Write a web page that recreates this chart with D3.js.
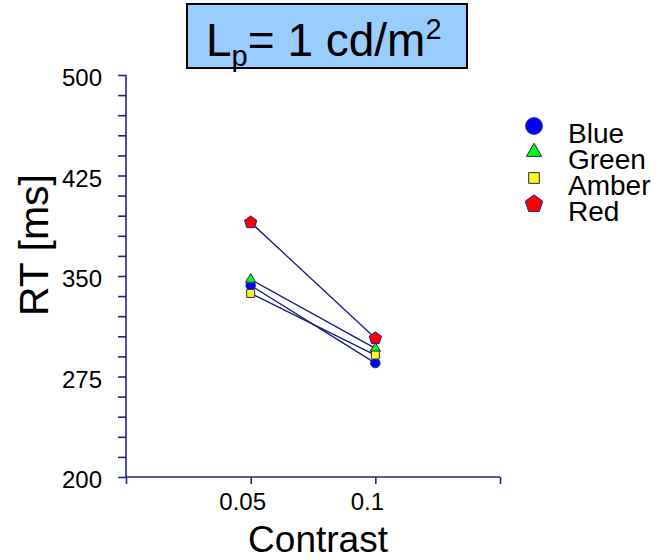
<!DOCTYPE html>
<html>
<head>
<meta charset="utf-8">
<script src="https://cdn.jsdelivr.net/npm/d3@7"></script>
<style>
  body { margin: 0; background: #fff; }
  svg { display: block; font-family: Arial, "Liberation Sans", sans-serif; }
</style>
</head>
<body>
<svg id="chart" width="667" height="560"></svg>
<script>
// RT vs contrast, Lp = 1 cd/m2
const contrasts = [0.05, 0.1];
const seriesNames = ['Blue', 'Green', 'Amber', 'Red'];
const blueRT = [343, 285];
const greenRT = [347.5, 296];
const amberRT = [337, 291];
const redRT = [390, 303.5];
const yMajorTicks = [200, 275, 350, 425, 500];
const xTickLabels = ['0.05', '0.1'];

const svg = d3.select('#chart');
const navy = '#23238c';

const x = d3.scaleLinear().domain([0, 0.15]).range([126, 500]);
const y = d3.scaleLinear().domain([200, 500]).range([477, 75]);

// pentagon symbol for d3.symbol
const symbolPentagon = {
    draw(context, size) {
        const r = Math.sqrt(size / 2.378);
        for (let i = 0; i < 5; i++) {
            const a = -Math.PI / 2 + i * 2 * Math.PI / 5;
            const px = r * Math.cos(a), py = r * Math.sin(a);
            if (i === 0) context.moveTo(px, py); else context.lineTo(px, py);
        }
        context.closePath();
    }
};

const styles = [
    { name: seriesNames[0], values: blueRT,  fill: '#0000ff', type: d3.symbolCircle,   size: 70,  legSize: 220 },
    { name: seriesNames[1], values: greenRT, fill: '#00ff00', type: d3.symbolTriangle, size: 45,  legSize: 100 },
    { name: seriesNames[2], values: amberRT, fill: '#ffff00', type: d3.symbolSquare,   size: 64,  legSize: 115 },
    { name: seriesNames[3], values: redRT,   fill: '#ff0000', type: symbolPentagon,    size: 100, legSize: 200 }
];

// title box
svg.append('rect')
    .attr('x', 187).attr('y', 4)
    .attr('width', 280).attr('height', 64)
    .attr('fill', '#99ccff')
    .attr('stroke', '#000').attr('stroke-width', 2);

const title = svg.append('text')
    .attr('x', 206).attr('y', 56)
    .attr('font-size', 46).attr('fill', '#000');
title.append('tspan').text('L');
title.append('tspan').attr('font-size', 29).attr('dy', 10).text('p');
title.append('tspan').attr('dy', -10).text('= 1 cd/m');
title.append('tspan').attr('font-size', 29).attr('dy', -17).text('2');

// x axis
const xAxis = d3.axisBottom(x)
    .tickValues([0, 0.05, 0.1, 0.15])
    .tickSize(7)
    .tickFormat('');
const gx = svg.append('g').attr('transform', `translate(0,${y(200)})`).call(xAxis);
gx.select('.domain').attr('d', `M${x(0)},0H${x(0.15)}`);
gx.selectAll('path, line').attr('stroke', navy).attr('stroke-width', 1.6);

svg.selectAll('.xlab')
    .data(contrasts)
    .enter().append('text')
    .attr('class', 'xlab')
    .attr('x', d => x(d) - 8)
    .attr('y', 510)
    .attr('text-anchor', 'middle')
    .attr('font-size', 24)
    .text((d, i) => xTickLabels[i]);

// y axis
const yAxis = d3.axisLeft(y)
    .tickValues(d3.range(200, 501, 15))
    .tickSize(8)
    .tickFormat('');
const gy = svg.append('g').attr('transform', `translate(${x(0)},0)`).call(yAxis);
gy.select('.domain').attr('d', `M0,${y(500)}V${y(200)}`);
gy.selectAll('path, line').attr('stroke', navy).attr('stroke-width', 1.6);

svg.selectAll('.ylab')
    .data(yMajorTicks)
    .enter().append('text')
    .attr('class', 'ylab')
    .attr('x', 102)
    .attr('y', d => y(d) + 11)
    .attr('text-anchor', 'end')
    .attr('font-size', 24)
    .text(d => d);

// axis titles
svg.append('text')
    .attr('x', 318).attr('y', 552)
    .attr('text-anchor', 'middle')
    .attr('font-size', 37)
    .text('Contrast');

svg.append('text')
    .attr('transform', 'translate(48,245) rotate(-90)')
    .attr('text-anchor', 'middle')
    .attr('font-size', 41)
    .text('RT [ms]');

// lines
const line = d3.line()
    .x((d, i) => x(contrasts[i]))
    .y(d => y(d));

svg.append('g').selectAll('path')
    .data(styles)
    .enter().append('path')
    .attr('d', d => line(d.values))
    .attr('fill', 'none')
    .attr('stroke', '#1a1a7a')
    .attr('stroke-width', 1.3);

// markers
styles.forEach(s => {
    svg.append('g').selectAll('path')
        .data(s.values)
        .enter().append('path')
        .attr('transform', (d, i) => `translate(${x(contrasts[i])},${y(d)})`)
        .attr('d', d3.symbol().type(s.type).size(s.size))
        .attr('fill', s.fill)
        .attr('stroke', navy)
        .attr('stroke-width', 1);
});

// legend
const legY = [126, 152, 178, 204];
const legTextY = [143, 169, 195, 221];
const leg = svg.append('g');
styles.forEach((s, i) => {
    leg.append('path')
        .attr('transform', `translate(534,${legY[i]})`)
        .attr('d', d3.symbol().type(s.type).size(s.legSize))
        .attr('fill', s.fill)
        .attr('stroke', navy)
        .attr('stroke-width', 1);
    leg.append('text')
        .attr('x', 568).attr('y', legTextY[i])
        .attr('font-size', 28)
        .text(s.name);
});
</script>
</body>
</html>
